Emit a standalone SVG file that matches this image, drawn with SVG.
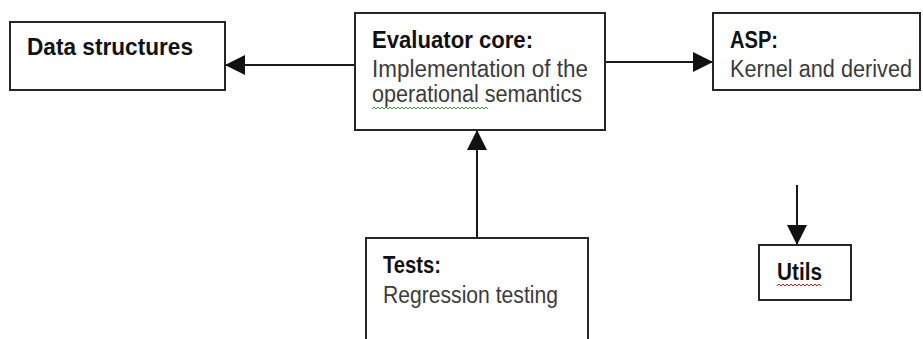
<svg xmlns="http://www.w3.org/2000/svg" width="923" height="339" viewBox="0 0 923 339">
<style>
.box{fill:#fff;stroke:#262626;stroke-width:2}
.edge{fill:none;stroke:#1a1a1a;stroke-width:2}
.b{font-family:"Liberation Sans",Arial,sans-serif;font-weight:bold;font-size:23px;fill:#111}
.r{font-family:"Liberation Sans",Arial,sans-serif;font-size:23px;fill:#3b3b3b}
.sq{fill:none;stroke-width:1}
</style>
<defs>
<marker id="ah" viewBox="0 0 20 20" refX="20" refY="10" markerWidth="20" markerHeight="20" markerUnits="userSpaceOnUse" orient="auto">
<path d="M0,0 L20,10 L0,20 Z" fill="#111"/>
</marker>
</defs>
<rect width="923" height="339" fill="#fff"/>
<g id="connectors">
<path class="edge" d="M355,65 H225" marker-end="url(#ah)"/>
<path class="edge" d="M605,62 H713" marker-end="url(#ah)"/>
<path class="edge" d="M477,238 V130" marker-end="url(#ah)"/>
<path class="edge" d="M797,185 V245" marker-end="url(#ah)"/>
</g>
<g id="data-structures">
<rect class="box" x="10" y="22" width="215" height="68"/>
<text class="b" x="27" y="55" textLength="166" lengthAdjust="spacingAndGlyphs">Data structures</text>
</g>
<g id="evaluator-core">
<rect class="box" x="355" y="13" width="250" height="117"/>
<text class="b" x="372" y="48" textLength="161" lengthAdjust="spacingAndGlyphs">Evaluator core:</text>
<text class="r" x="372" y="77" textLength="216" lengthAdjust="spacingAndGlyphs">Implementation of the</text>
<text class="r" x="372" y="102" textLength="210" lengthAdjust="spacingAndGlyphs">operational semantics</text>
<path class="sq" stroke="#3a9a3a" d="M372,109 l2,-2 l2,2 l2,-2 l2,2 l2,-2 l2,2 l2,-2 l2,2 l2,-2 l2,2 l2,-2 l2,2 l2,-2 l2,2 l2,-2 l2,2 l2,-2 l2,2 l2,-2 l2,2 l2,-2 l2,2 l2,-2 l2,2 l2,-2 l2,2 l2,-2 l2,2 l2,-2 l2,2 l2,-2 l2,2 l2,-2 l2,2 l2,-2 l2,2 l2,-2 l2,2 l2,-2 l2,2 l2,-2 l2,2 l2,-2 l2,2 l2,-2 l2,2 l2,-2 l2,2 l2,-2 l2,2 l2,-2 l2,2 l2,-2 l2,2 l2,-2 l2,2 l2,-2 l2,2"/>
</g>
<g id="asp">
<rect class="box" x="713" y="13" width="207" height="77"/>
<text class="b" x="730" y="48" textLength="48" lengthAdjust="spacingAndGlyphs">ASP:</text>
<text class="r" x="730" y="77" textLength="182" lengthAdjust="spacingAndGlyphs">Kernel and derived</text>
</g>
<g id="tests">
<rect class="box" x="366" y="238" width="222" height="110"/>
<text class="b" x="383" y="273" textLength="58" lengthAdjust="spacingAndGlyphs">Tests:</text>
<text class="r" x="383" y="303" textLength="175" lengthAdjust="spacingAndGlyphs">Regression testing</text>
</g>
<g id="utils">
<rect class="box" x="759" y="245" width="92" height="55"/>
<text class="b" x="777" y="280" textLength="45" lengthAdjust="spacingAndGlyphs">Utils</text>
<path class="sq" stroke="#d02020" d="M777,286 l2,-2 l2,2 l2,-2 l2,2 l2,-2 l2,2 l2,-2 l2,2 l2,-2 l2,2 l2,-2 l2,2 l2,-2 l2,2 l2,-2 l2,2 l2,-2 l2,2 l2,-2 l2,2 l2,-2 l2,2"/>
</g>
</svg>
